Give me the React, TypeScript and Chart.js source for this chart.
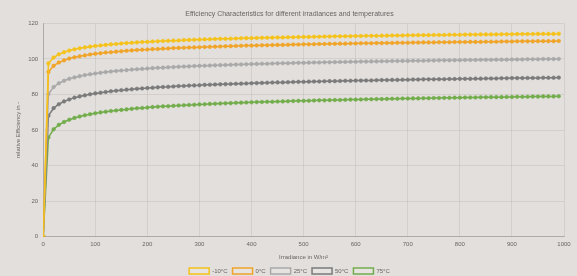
import React, { useEffect, useRef } from "react";
import { Chart, registerables } from "chart.js";

Chart.register(...registerables);

const irradiance = [
  0, 10, 20, 30, 40, 50, 60, 70, 80, 90, 100, 110, 120, 130, 140, 150, 160, 170, 180, 190,
  200, 210, 220, 230, 240, 250, 260, 270, 280, 290, 300, 310, 320, 330, 340, 350, 360, 370, 380, 390,
  400, 410, 420, 430, 440, 450, 460, 470, 480, 490, 500, 510, 520, 530, 540, 550, 560, 570, 580, 590,
  600, 610, 620, 630, 640, 650, 660, 670, 680, 690, 700, 710, 720, 730, 740, 750, 760, 770, 780, 790,
  800, 810, 820, 830, 840, 850, 860, 870, 880, 890, 900, 910, 920, 930, 940, 950, 960, 970, 980, 990,
];

const effMinus10 = [
  0, 97.5, 100.8, 102.6, 103.8, 104.7, 105.4, 106.0, 106.5, 106.9, 107.3, 107.6, 107.9, 108.2, 108.4, 108.7, 108.9, 109.1, 109.3, 109.5,
  109.6, 109.8, 109.9, 110.1, 110.2, 110.3, 110.4, 110.6, 110.7, 110.8, 110.9, 111.0, 111.1, 111.2, 111.3, 111.3, 111.4, 111.5, 111.6, 111.7,
  111.7, 111.8, 111.9, 111.9, 112.0, 112.1, 112.1, 112.2, 112.2, 112.3, 112.4, 112.4, 112.5, 112.5, 112.6, 112.6, 112.7, 112.7, 112.8, 112.8,
  112.9, 112.9, 113.0, 113.0, 113.0, 113.1, 113.1, 113.2, 113.2, 113.2, 113.3, 113.3, 113.4, 113.4, 113.4, 113.5, 113.5, 113.5, 113.6, 113.6,
  113.6, 113.7, 113.7, 113.7, 113.8, 113.8, 113.8, 113.8, 113.9, 113.9, 113.9, 114.0, 114.0, 114.0, 114.0, 114.1, 114.1, 114.1, 114.1, 114.2,
];

const eff0 = [
  0, 92.7, 96.1, 98.0, 99.2, 100.2, 100.9, 101.5, 102.0, 102.5, 102.9, 103.2, 103.6, 103.8, 104.1, 104.3, 104.6, 104.8, 105.0, 105.2,
  105.3, 105.5, 105.6, 105.8, 105.9, 106.1, 106.2, 106.3, 106.4, 106.5, 106.6, 106.7, 106.8, 106.9, 107.0, 107.1, 107.2, 107.3, 107.4, 107.5,
  107.5, 107.6, 107.7, 107.7, 107.8, 107.9, 107.9, 108.0, 108.1, 108.1, 108.2, 108.2, 108.3, 108.4, 108.4, 108.5, 108.5, 108.6, 108.6, 108.7,
  108.7, 108.8, 108.8, 108.8, 108.9, 108.9, 109.0, 109.0, 109.1, 109.1, 109.1, 109.2, 109.2, 109.3, 109.3, 109.3, 109.4, 109.4, 109.4, 109.5,
  109.5, 109.5, 109.6, 109.6, 109.6, 109.7, 109.7, 109.7, 109.8, 109.8, 109.8, 109.9, 109.9, 109.9, 109.9, 110.0, 110.0, 110.0, 110.0, 110.1,
];

const eff25 = [
  0, 80.3, 84.2, 86.3, 87.7, 88.8, 89.6, 90.3, 90.9, 91.4, 91.8, 92.2, 92.6, 92.9, 93.2, 93.5, 93.7, 94.0, 94.2, 94.4,
  94.6, 94.8, 95.0, 95.1, 95.3, 95.4, 95.6, 95.7, 95.8, 96.0, 96.1, 96.2, 96.3, 96.4, 96.5, 96.6, 96.7, 96.8, 96.9, 97.0,
  97.1, 97.2, 97.3, 97.3, 97.4, 97.5, 97.6, 97.6, 97.7, 97.8, 97.8, 97.9, 98.0, 98.0, 98.1, 98.1, 98.2, 98.3, 98.3, 98.4,
  98.4, 98.5, 98.5, 98.6, 98.6, 98.7, 98.7, 98.8, 98.8, 98.9, 98.9, 99.0, 99.0, 99.0, 99.1, 99.1, 99.2, 99.2, 99.2, 99.3,
  99.3, 99.4, 99.4, 99.4, 99.5, 99.5, 99.5, 99.6, 99.6, 99.6, 99.7, 99.7, 99.7, 99.8, 99.8, 99.8, 99.9, 99.9, 99.9, 100.0,
];

const eff50 = [
  0, 68.0, 72.3, 74.5, 76.1, 77.2, 78.2, 78.9, 79.5, 80.1, 80.6, 81.0, 81.4, 81.8, 82.1, 82.4, 82.7, 82.9, 83.2, 83.4,
  83.6, 83.8, 84.0, 84.2, 84.3, 84.5, 84.7, 84.8, 85.0, 85.1, 85.2, 85.4, 85.5, 85.6, 85.7, 85.8, 85.9, 86.0, 86.1, 86.2,
  86.3, 86.4, 86.5, 86.6, 86.7, 86.8, 86.8, 86.9, 87.0, 87.1, 87.1, 87.2, 87.3, 87.3, 87.4, 87.5, 87.5, 87.6, 87.7, 87.7,
  87.8, 87.8, 87.9, 87.9, 88.0, 88.1, 88.1, 88.2, 88.2, 88.3, 88.3, 88.4, 88.4, 88.5, 88.5, 88.5, 88.6, 88.6, 88.7, 88.7,
  88.8, 88.8, 88.8, 88.9, 88.9, 89.0, 89.0, 89.0, 89.1, 89.1, 89.2, 89.2, 89.2, 89.3, 89.3, 89.3, 89.4, 89.4, 89.4, 89.5,
];

const eff75 = [
  0, 55.8, 60.4, 62.9, 64.5, 65.8, 66.8, 67.6, 68.3, 68.9, 69.4, 69.9, 70.3, 70.7, 71.0, 71.3, 71.6, 71.9, 72.2, 72.4,
  72.6, 72.9, 73.1, 73.3, 73.4, 73.6, 73.8, 73.9, 74.1, 74.2, 74.4, 74.5, 74.7, 74.8, 74.9, 75.0, 75.1, 75.3, 75.4, 75.5,
  75.6, 75.7, 75.8, 75.9, 75.9, 76.0, 76.1, 76.2, 76.3, 76.4, 76.4, 76.5, 76.6, 76.7, 76.7, 76.8, 76.9, 76.9, 77.0, 77.1,
  77.1, 77.2, 77.3, 77.3, 77.4, 77.4, 77.5, 77.6, 77.6, 77.7, 77.7, 77.8, 77.8, 77.9, 77.9, 78.0, 78.0, 78.1, 78.1, 78.2,
  78.2, 78.3, 78.3, 78.3, 78.4, 78.4, 78.5, 78.5, 78.5, 78.6, 78.6, 78.7, 78.7, 78.7, 78.8, 78.8, 78.9, 78.9, 78.9, 79.0,
];

const seriesLabels = ["-10°C", "0°C", "25°C", "50°C", "75°C"];
const seriesValues = [effMinus10, eff0, eff25, eff50, eff75];
const seriesColors = ["#f5c21b", "#f0a428", "#a9a9a9", "#7b7b7b", "#72ad4c"];

const titleText = "Efficiency Characteristics for different irradiances and temperatures";
const xTitle = "Irradiance in W/m²";
const yTitle = "relative Efficiency in -";

const BG = "#e3dfdc";
const FONT = "'Liberation Sans', Arial, sans-serif";

export default function App() {
  const canvasRef = useRef<HTMLCanvasElement | null>(null);

  useEffect(() => {
    const canvas = canvasRef.current;
    if (!canvas) return;
    const datasets = seriesValues.map((vals, i) => ({
      label: seriesLabels[i],
      data: vals.map((v, j) => ({ x: irradiance[j], y: v })),
      borderColor: seriesColors[i],
      backgroundColor: "rgba(255,255,255,0.15)",
      pointBackgroundColor: seriesColors[i],
      pointBorderColor: seriesColors[i],
      pointRadius: 1.8,
      pointBorderWidth: 0.6,
      borderWidth: 1.5,
      tension: 0,
      fill: false,
    }));
    const chart = new Chart(canvas, {
      type: "line",
      data: { datasets },
      options: {
        animation: false,
        responsive: false,
        maintainAspectRatio: false,
        layout: { padding: { left: 15, right: 13, top: 0, bottom: -8 } },
        plugins: {
          title: {
            display: true,
            text: titleText,
            color: "#666",
            font: { family: FONT, size: 7, weight: "normal" },
            padding: { top: 10, bottom: 5 },
          },
          legend: {
            position: "bottom",
            labels: {
              color: "#666",
              font: { family: FONT, size: 6 },
              boxWidth: 20,
              boxHeight: 6,
              padding: 5,
            },
          },
          tooltip: { enabled: false },
        },
        scales: {
          x: {
            type: "linear",
            min: 0,
            max: 1000,
            ticks: {
              stepSize: 100,
              color: "#666",
              font: { family: FONT, size: 6 },
              padding: 4,
              maxRotation: 0,
              callback: (v: any) => String(v),
            },
            grid: { color: "rgba(0,0,0,0.07)", tickLength: 0 },
            border: { color: "rgba(0,0,0,0.18)" },
            title: { display: true, text: xTitle, color: "#666", font: { family: FONT, size: 6 }, padding: { top: 2, bottom: 2 } },
          },
          y: {
            min: 0,
            max: 120,
            ticks: { stepSize: 20, color: "#666", font: { family: FONT, size: 6 }, padding: 5 },
            grid: { color: "rgba(0,0,0,0.07)", tickLength: 0 },
            border: { color: "rgba(0,0,0,0.18)" },
            title: { display: true, text: yTitle, color: "#666", font: { family: FONT, size: 6 }, padding: { top: 0, bottom: 1 } },
          },
        },
      },
    });
    return () => chart.destroy();
  }, []);

  return (
    <div style={{ position: "fixed", left: 0, top: 0, width: 577, height: 276, background: BG }}>
      <canvas ref={canvasRef} width={577} height={276} style={{ display: "block", width: 577, height: 276 }} />
    </div>
  );
}
